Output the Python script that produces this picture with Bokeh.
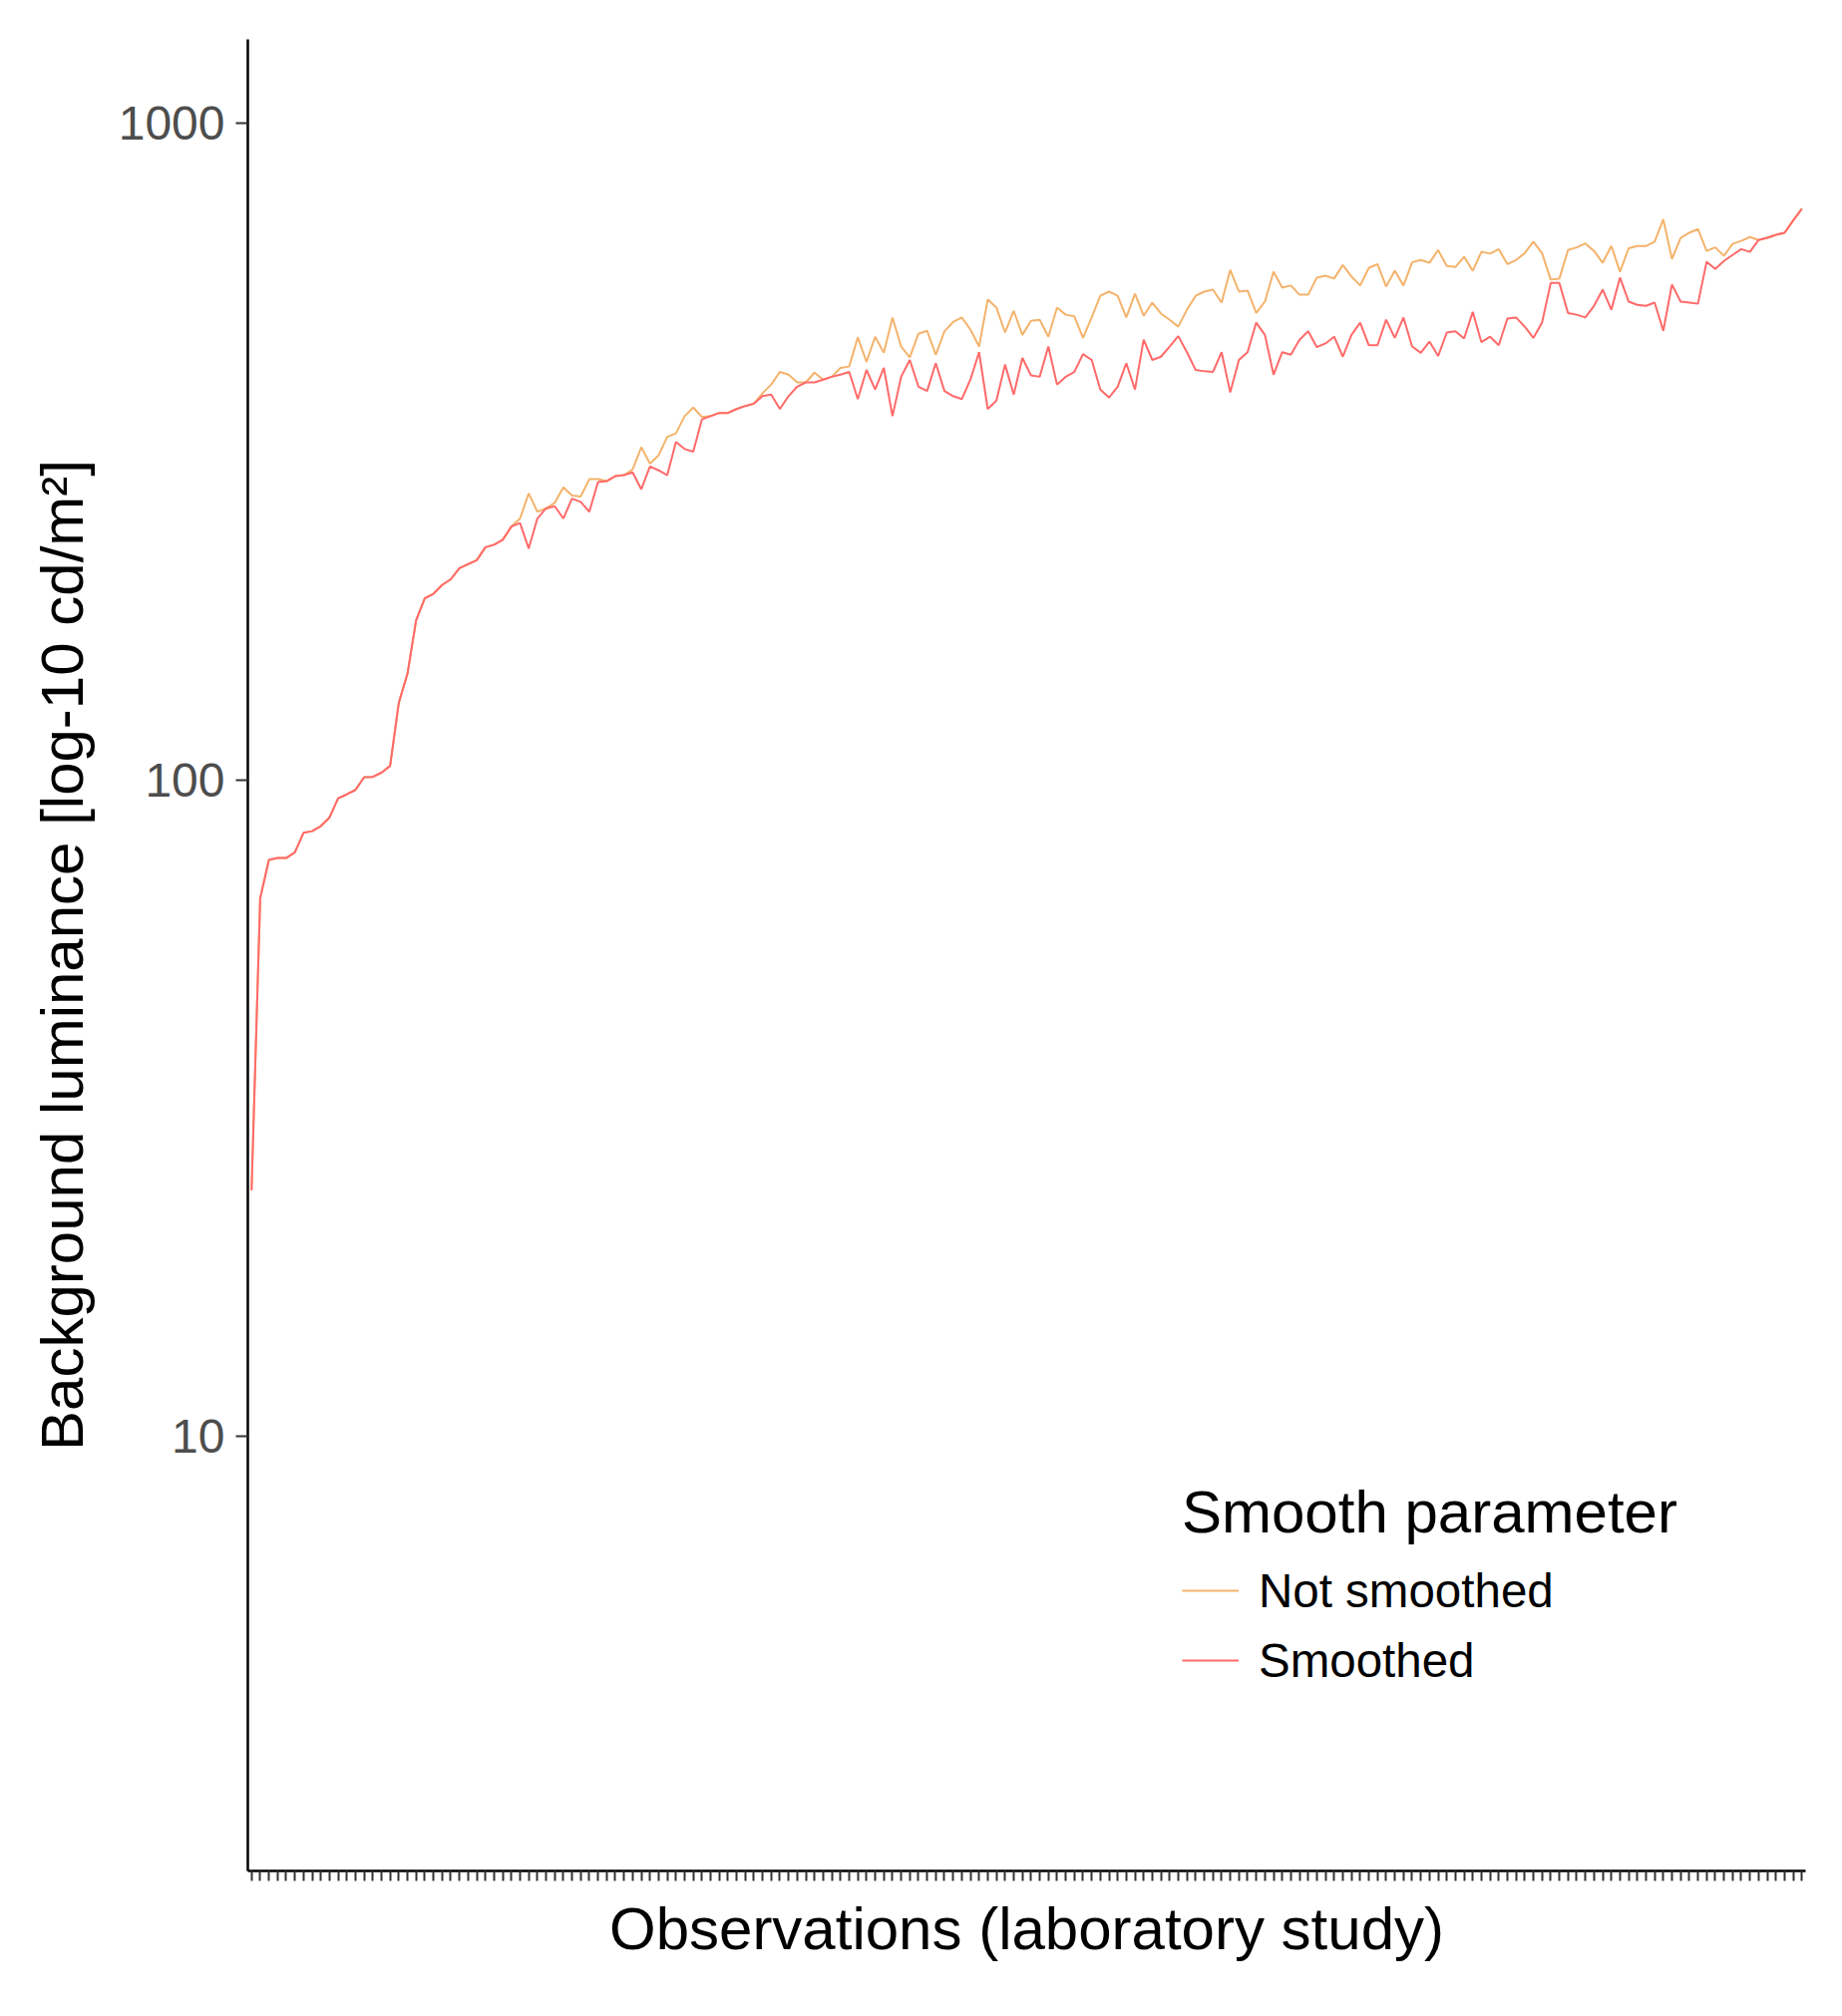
from bokeh.plotting import figure
from bokeh.models import (FixedTicker, PrintfTickFormatter, Legend, LegendItem, Range1d,
                          ColumnDataSource, CustomJSTickFormatter)
from bokeh.embed import file_html
from bokeh.resources import INLINE

# ---- data ----
observations = list(range(1, 181))

smoothed = [
    23.7, 66, 75.5, 76, 76, 77.5, 83, 83.5, 85, 87.6,
    93.7, 95, 96.5, 100.9, 101, 102.5, 105, 131, 145, 175,
    189, 192, 198, 202, 210, 213, 216, 226, 228, 232,
    243, 246, 225, 250, 259, 261, 250, 268, 265, 256,
    284, 285, 290, 291, 294, 277, 300, 296, 291, 327,
    319, 316, 354, 358, 362, 362, 367, 371, 374, 384,
    386, 367, 384, 397, 403, 403, 407, 411, 414, 418,
    380, 421, 393, 424, 358, 411, 436, 397, 391, 431,
    391, 384, 380, 407, 448, 367, 378, 429, 386, 439,
    413, 411, 457, 400, 411, 418, 445, 436, 393, 382,
    397, 431, 393, 468, 436, 441, 457, 474, 448, 421,
    419, 418, 448, 389, 436, 448, 497, 476, 414, 448,
    444, 468, 482, 456, 462, 473, 441, 476, 497, 459,
    459, 502, 471, 506, 457, 447, 465, 442, 480, 482,
    470, 516, 464, 473, 459, 504, 506, 490, 471, 497,
    571, 571, 514, 511, 506, 527, 558, 520, 582, 535,
    529, 527, 533, 483, 568, 535, 533, 531, 615, 600,
    617, 630, 643, 637, 664, 669, 676, 681, 711, 741,
]

not_smoothed = [
    23.7, 66, 75.5, 76, 76, 77.5, 83, 83.5, 85, 87.6,
    93.7, 95, 96.5, 100.9, 101, 102.5, 105, 131, 145, 175,
    189, 192, 198, 202, 210, 213, 216, 226, 228, 232,
    243, 250, 273, 256, 259, 264, 279, 271, 270, 287,
    287, 285, 290, 291, 297, 321, 303, 312, 333, 337,
    358, 369, 357, 358, 362, 362, 367, 371, 374, 388,
    400, 418, 414, 403, 403, 417, 407, 411, 424, 426,
    472, 433, 473, 447, 506, 457, 440, 478, 483, 444,
    482, 498, 506, 485, 457, 539, 524, 480, 518, 476,
    500, 502, 473, 524, 511, 508, 471, 506, 546, 554,
    546, 506, 550, 509, 533, 513, 502, 490, 520, 546,
    554, 558, 533, 598, 554, 556, 514, 535, 594, 562,
    566, 548, 548, 582, 586, 580, 608, 584, 566, 602,
    610, 564, 596, 566, 614, 619, 613, 641, 606, 604,
    626, 596, 637, 633, 643, 610, 619, 634, 660, 634,
    578, 580, 641, 647, 656, 639, 613, 650, 594, 645,
    650, 650, 660, 714, 621, 669, 681, 690, 639, 647,
    628, 655, 662, 671, 664, 669, 676, 681, 711, 741,
]

y_ticks = [10, 100, 1000]
series_labels = ["Not smoothed", "Smoothed"]
legend_title = "Smooth parameter"
x_title = "Observations (laboratory study)"
y_title = "Background luminance [log-10 cd/m\u00b2]"

COL_NOT = "#F4B36C"
COL_SM = "#FF6A6A"
FONT = "Liberation Sans"

src = ColumnDataSource(dict(x=observations, ns=not_smoothed, sm=smoothed))

p = figure(width=1830, height=2000, y_axis_type="log",
           x_range=Range1d(0.57, 180.43), y_range=Range1d(2.177, 1342),
           output_backend="svg", toolbar_location=None,
           min_border_left=248, min_border_right=20,
           min_border_top=39, min_border_bottom=124)

r_ns = p.line("x", "ns", source=src, line_color=COL_NOT, line_width=2)
r_sm = p.line("x", "sm", source=src, line_color=COL_SM, line_width=2)

p.xgrid.visible = False
p.ygrid.visible = False
p.outline_line_color = None
p.background_fill_color = "white"
p.border_fill_color = "white"

# y axis
ya = p.yaxis[0]
ya.ticker = FixedTicker(ticks=y_ticks, minor_ticks=[])
ya.formatter = PrintfTickFormatter(format="%d")
ya.axis_line_color = "black"
ya.axis_line_width = 2.5
ya.major_tick_line_color = "#333333"
ya.major_tick_line_width = 2
ya.major_tick_out = 12
ya.major_tick_in = 0
ya.minor_tick_line_color = None
ya.major_label_text_font = FONT
ya.major_label_text_font_size = "48px"
ya.major_label_text_color = "#4D4D4D"
ya.major_label_standoff = 11
ya.axis_label = y_title
ya.axis_label_text_font = FONT
ya.axis_label_text_font_size = "60px"
ya.axis_label_text_font_style = "normal"
ya.axis_label_text_color = "black"
ya.axis_label_standoff = 20

# x axis: one tick per observation, no labels
xa = p.xaxis[0]
xa.ticker = FixedTicker(ticks=observations, minor_ticks=[])
xa.formatter = CustomJSTickFormatter(code="return '';")
xa.major_label_text_font_size = "10px"
xa.major_label_standoff = 0
xa.axis_line_color = "black"
xa.axis_line_width = 2.5
xa.major_tick_line_color = "#333333"
xa.major_tick_line_width = 2
xa.major_tick_out = 10
xa.major_tick_in = 0
xa.minor_tick_line_color = None
xa.axis_label = x_title
xa.axis_label_text_font = FONT
xa.axis_label_text_font_size = "60px"
xa.axis_label_text_font_style = "normal"
xa.axis_label_text_color = "black"
xa.axis_label_standoff = 14

legend = Legend(
    items=[LegendItem(label=series_labels[0], renderers=[r_ns]),
           LegendItem(label=series_labels[1], renderers=[r_sm])],
    title=legend_title,
    location=(937, 176),
    margin=0, padding=10, spacing=0,
    glyph_width=57, glyph_height=70, label_height=70,
    label_standoff=20,
    label_text_font=FONT, label_text_font_size="47.5px", label_text_color="black",
    title_text_font=FONT, title_text_font_size="60px", title_text_font_style="normal",
    title_text_color="black", title_standoff=9,
    border_line_color=None, background_fill_alpha=0,
)
p.add_layout(legend)

open("out.html", "w").write(file_html(p, INLINE))
